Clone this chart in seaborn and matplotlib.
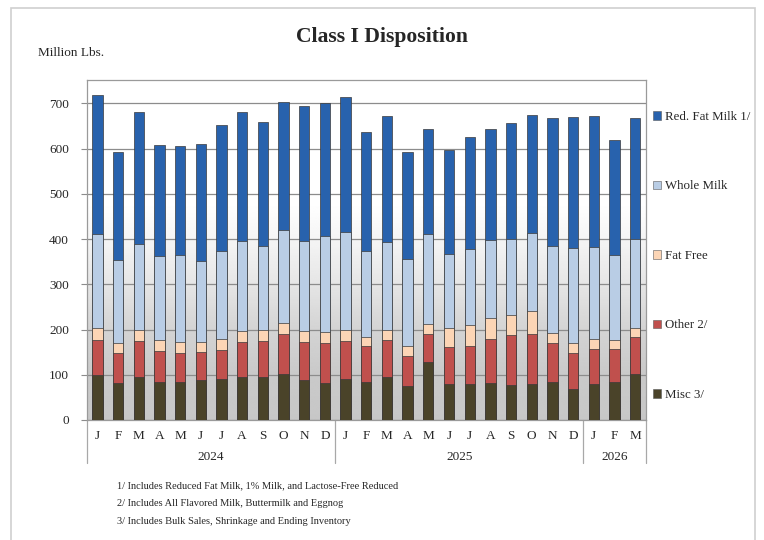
import numpy as np
import pandas as pd
import matplotlib
matplotlib.use("Agg")
import matplotlib.pyplot as plt
import matplotlib.patches as mpatches
import matplotlib.transforms as mtransforms
import seaborn as sns

# ---- data (Million Lbs.) ----
months = ["J", "F", "M", "A", "M", "J", "J", "A", "S", "O", "N", "D",
          "J", "F", "M", "A", "M", "J", "J", "A", "S", "O", "N", "D",
          "J", "F", "M"]
years = ["2024"] * 12 + ["2025"] * 12 + ["2026"] * 3
misc = [100, 81, 96, 85, 83, 88, 91, 96, 94, 102, 88, 82,
        91, 85, 96, 76, 128, 80, 79, 82, 77, 80, 84, 69,
        80, 85, 102]
other = [77, 66, 78, 67, 66, 62, 64, 76, 81, 88, 85, 88,
         84, 79, 81, 66, 62, 81, 85, 96, 110, 110, 87, 80,
         77, 73, 81]
fat_free = [27, 23, 24, 24, 24, 22, 24, 24, 23, 25, 23, 24,
            23, 20, 22, 22, 23, 43, 45, 48, 46, 50, 21, 21,
            21, 18, 20]
whole = [207, 184, 191, 187, 192, 179, 195, 200, 187, 204, 200, 213,
         217, 189, 194, 192, 198, 163, 168, 171, 167, 173, 193, 211,
         205, 189, 197]
red_fat = [308, 239, 292, 245, 241, 260, 278, 284, 273, 284, 298, 293,
           298, 264, 278, 237, 232, 230, 249, 246, 257, 262, 283, 289,
           290, 254, 268]
series_names = ["Red. Fat Milk 1/", "Whole Milk", "Fat Free", "Other 2/", "Misc 3/"]
series_colors = ["#2862ad", "#b9cde5", "#fcd5b5", "#c0504d", "#4a4329"]
footnotes = ["1/ Includes Reduced Fat Milk, 1% Milk, and Lactose-Free Reduced",
             "2/ Includes All Flavored Milk, Buttermilk and Eggnog",
             "3/ Includes Bulk Sales, Shrinkage and Ending Inventory"]

periods = [f"{y}-{i:02d}" for i, y in enumerate(years)]
df = pd.DataFrame({"period": periods, "misc": misc, "other": other,
                   "fat_free": fat_free, "whole": whole, "red_fat": red_fat})
df["c_misc"] = df["misc"]
df["c_other"] = df["c_misc"] + df["other"]
df["c_ff"] = df["c_other"] + df["fat_free"]
df["c_whole"] = df["c_ff"] + df["whole"]
df["c_red"] = df["c_whole"] + df["red_fat"]

sns.set_theme(style="white")
plt.rcParams["font.family"] = ["Liberation Serif", "DejaVu Serif"]

W, H = 764, 540
fig = plt.figure(figsize=(W / 100, H / 100), dpi=100)
fig.patch.set_facecolor("white")

L, R, T, B = 87, 645.5, 80, 420
ax = fig.add_axes([L / W, 1 - B / H, (R - L) / W, (B - T) / H])
YMAX = (B - T) / (B - 103.3) * 700

# gradient background
yy = np.linspace(0, YMAX, 300)
shade = np.interp(yy, [0, 100, 200, 300, 400, 480, YMAX],
                  [0.78, 0.79, 0.83, 0.90, 0.96, 1.0, 1.0])
grad = np.repeat(shade[::-1, None], 2, axis=1)
ax.imshow(grad, extent=[-0.5, len(periods) - 0.5, 0, YMAX], aspect="auto",
          cmap="gray", vmin=0, vmax=1, zorder=0, interpolation="bilinear")

cols = ["c_red", "c_whole", "c_ff", "c_other", "c_misc"]
for col, color in zip(cols, series_colors):
    sns.barplot(data=df, x="period", y=col, color=color, saturation=1,
                width=0.5, errorbar=None, edgecolor="#3a3a3a", linewidth=0.5,
                ax=ax, zorder=3)

ax.set_xlim(-0.5, len(periods) - 0.5)
ax.set_ylim(0, YMAX)
ax.set_yticks(range(0, 701, 100))
ax.yaxis.grid(True, color="#8c8c8c", linewidth=0.9, zorder=1)
ax.set_axisbelow(True)
for ln in ax.get_ygridlines():
    ln.set_zorder(1)
ax.set_xlabel("")
ax.set_ylabel("")
ax.set_xticks(range(len(periods)))
ax.set_xticklabels(months, fontsize=9.5)
ax.tick_params(axis="x", length=0, pad=7.5)
ax.tick_params(axis="y", length=4, width=0.8, color="#8c8c8c", pad=9, labelsize=9.5,
               left=True)
for s in ax.spines.values():
    s.set_color("#9a9a9a")
    s.set_linewidth(0.9)

# year group separators and labels
trans = mtransforms.blended_transform_factory(ax.transData, ax.transAxes)
sep_bottom = -(463 - B) / (B - T)
for xs in [-0.5, 11.5, 23.5, 26.5]:
    ax.plot([xs, xs], [0, sep_bottom], transform=trans, color="#a8a8a8",
            linewidth=0.9, clip_on=False)
year_y = -(457 - B) / (B - T)
for label, xc in [("2024", 5.5), ("2025", 17.5), ("2026", 25)]:
    ax.text(xc, year_y, label, transform=trans, ha="center", va="center",
            fontsize=9.5)

# legend
handles = [mpatches.Patch(facecolor=c, edgecolor="#5a5a5a", linewidth=0.4)
           for c in series_colors]
fig.legend(handles, series_names, loc="upper left",
           bbox_to_anchor=(653 / W, 1 - 111 / H), frameon=False, fontsize=9.3,
           handlelength=0.65, handleheight=0.65, handletextpad=0.25,
           labelspacing=4.45, borderaxespad=0, borderpad=0)

# titles and texts
fig.text(381.5 / W, 1 - 37 / H, "Class I Disposition", ha="center", va="center",
         fontsize=15.6, fontweight="bold")
fig.text(38 / W, 1 - 53 / H, "Million Lbs.", ha="left", va="center", fontsize=9.5)
for i, fn in enumerate(footnotes):
    fig.text(117 / W, 1 - (486 + 17.5 * i) / H, fn, ha="left", va="center",
             fontsize=7.5)

# outer frame
fig.add_artist(mpatches.Rectangle((11 / W, -0.05), (755 - 11) / W, 1.05 - 8 / H,
                                  transform=fig.transFigure, fill=False,
                                  edgecolor="#cfcfcf", linewidth=1.2))

fig.savefig("out.png", dpi=100)
